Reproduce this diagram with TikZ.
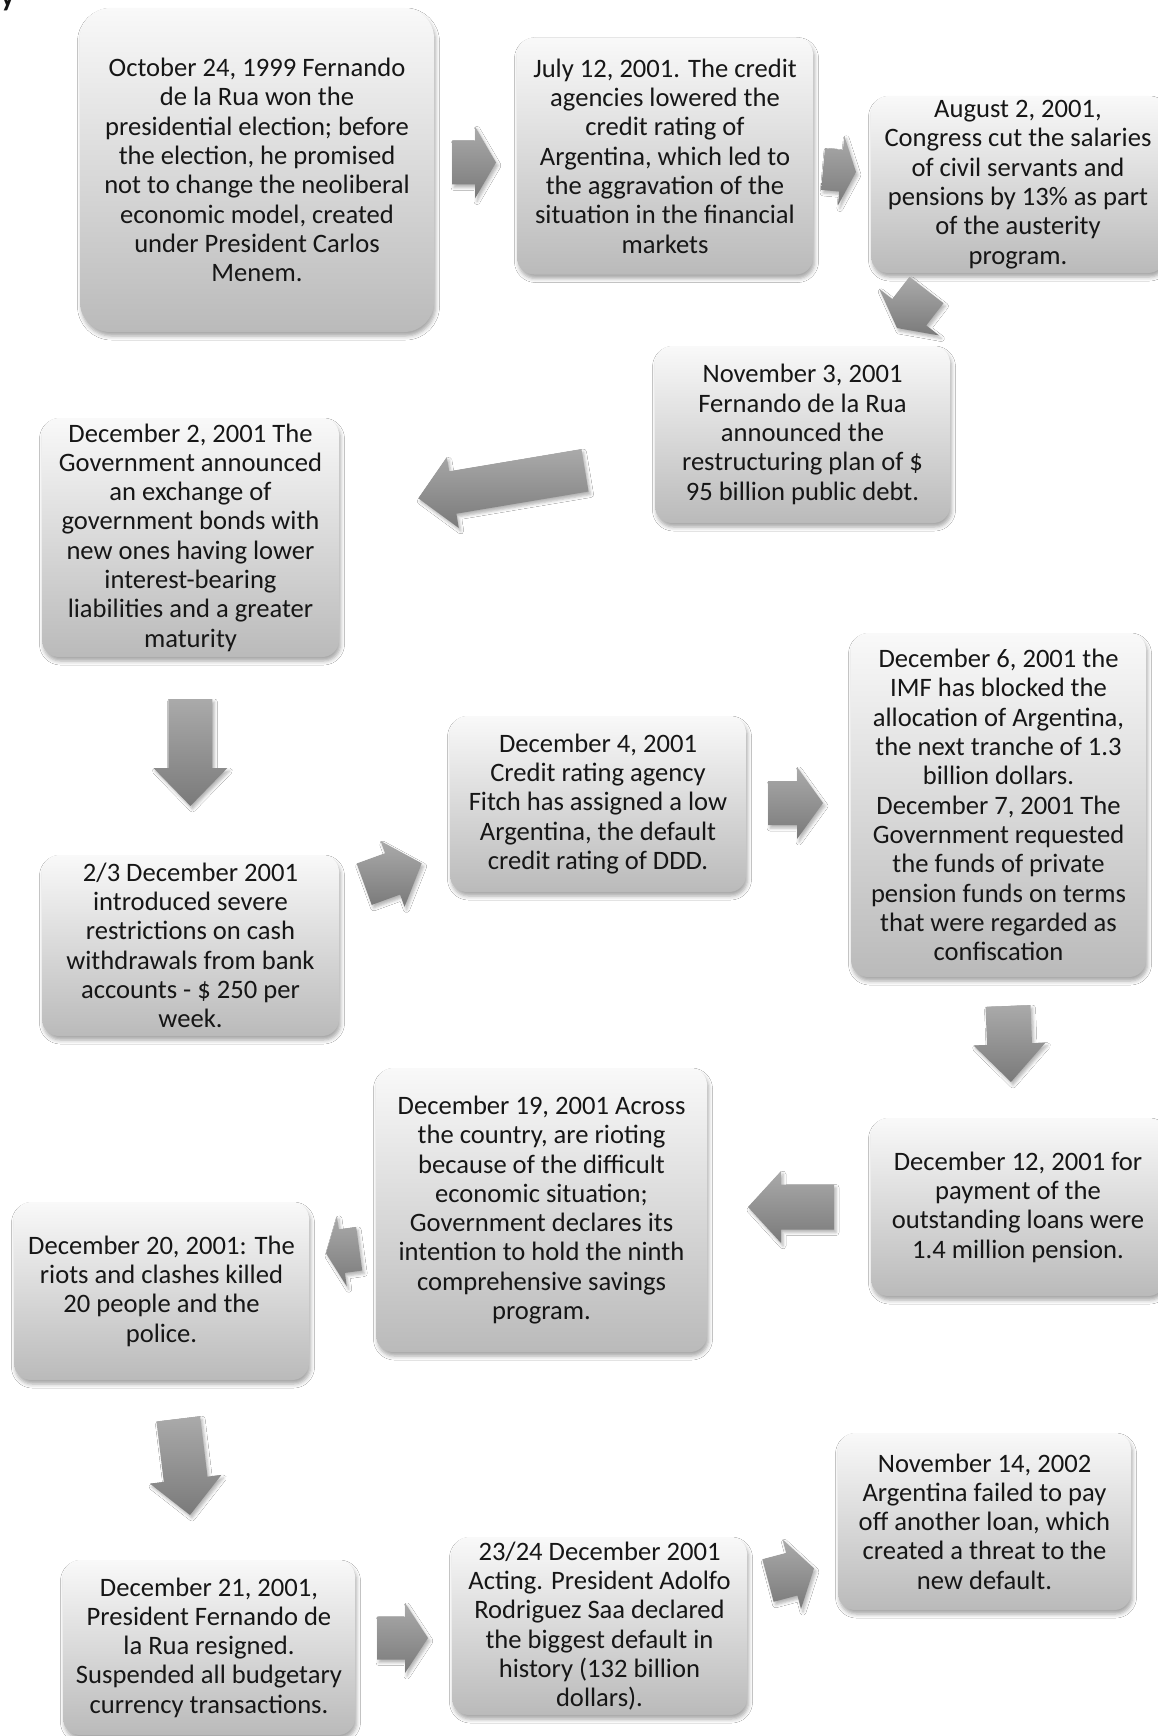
\documentclass[tikz,border=0pt]{standalone}
\usepackage{fontspec}
\setmainfont{Carlito}
\usetikzlibrary{calc,shadows,shadows.blur}
\definecolor{boxtop}{RGB}{249,249,249}
\definecolor{boxbot}{RGB}{186,186,186}
\definecolor{arrtop}{RGB}{170,170,170}
\definecolor{arrbot}{RGB}{122,122,122}
\definecolor{txt}{RGB}{22,22,22}
\tikzset{
  evbox/.style={rectangle, rounded corners=17pt, top color=boxtop, bottom color=boxbot,
    draw=none, text=txt, align=center, inner sep=0pt,
    font=\fontsize{26.6}{29.3}\selectfont,
    blur shadow={shadow xshift=1.5pt, shadow yshift=-4pt, shadow blur radius=4pt, shadow opacity=35}},
  arrowshade/.style={top color=arrtop, bottom color=arrbot,
    blur shadow={shadow xshift=2pt, shadow yshift=-3pt, shadow blur radius=3pt, shadow opacity=30}},
}
% #1 tail, #2 tip, #3 shaft half width, #4 head half width, #5 head length
\newcommand{\blockarrow}[5]{%
  \coordinate (bah) at ($(#2)!#5!(#1)$);
  \shade[arrowshade] ($(#1)!#3!90:(#2)$) -- ($(bah)!#3!-90:(#1)$) -- ($(bah)!#4!-90:(#1)$)
    -- (#2) -- ($(bah)!#4!90:(#1)$) -- ($(bah)!#3!90:(#1)$) -- ($(#1)!#3!-90:(#2)$) -- cycle;
}
\begin{document}
\begin{tikzpicture}[x=1pt,y=-1pt]
\useasboundingbox (0,0) rectangle (1158,1736);
\fill[white] (0,0) rectangle (1158,1736);

\node[anchor=base west, inner sep=0pt, text=txt, font=\bfseries\fontsize{28}{32}\selectfont] (frag) at (1,7) {y};

\node[evbox, rounded corners=30pt, minimum width=354pt, minimum height=324pt] (b1) at (257,170)
 {October 24, 1999 Fernando\\de la Rua won the\\presidential election; before\\the election, he promised\\not to change the neoliberal\\economic model, created\\under President Carlos\\Menem.};
\node[evbox, minimum width=296pt, minimum height=237pt] (b2) at (665,156)
 {July 12, 2001. The credit\\agencies lowered the\\credit rating of\\Argentina, which led to\\the aggravation of the\\situation in the financial\\markets};
\node[evbox, minimum width=294pt, minimum height=177pt] (b3) at (1018,184.5)
 {August 2, 2001,\\Congress cut the salaries\\of civil servants and\\pensions by 13\% as part\\of the austerity\\program.};
\node[evbox, minimum width=295pt, minimum height=177pt] (b4) at (802.5,434.5)
 {November 3, 2001\\Fernando de la Rua\\announced the\\restructuring plan of \$\\95 billion public debt.};
\node[evbox, minimum width=297pt, minimum height=239pt] (b5) at (190.5,537.5)
 {December 2, 2001 The\\Government announced\\an exchange of\\government bonds with\\new ones having lower\\interest-bearing\\liabilities and a greater\\maturity};
\node[evbox, minimum width=297pt, minimum height=181pt] (b6) at (190.5,945.5)
 {2/3 December 2001\\introduced severe\\restrictions on cash\\withdrawals from bank\\accounts - \$ 250 per\\week.};
\node[evbox, minimum width=296pt, minimum height=176pt] (b7) at (598,804)
 {December 4, 2001\\Credit rating agency\\Fitch has assigned a low\\Argentina, the default\\credit rating of DDD.};
\node[evbox, minimum width=295pt, minimum height=344pt] (b8) at (998.5,805)
 {December 6, 2001 the\\IMF has blocked the\\allocation of Argentina,\\the next tranche of 1.3\\billion dollars.\\December 7, 2001 The\\Government requested\\the funds of private\\pension funds on terms\\that were regarded as\\confiscation};
\node[evbox, minimum width=294pt, minimum height=178pt] (b9) at (1018,1207)
 {December 12, 2001 for\\payment of the\\outstanding loans were\\1.4 million pension.};
\node[evbox, minimum width=331pt, minimum height=284pt] (b10) at (541.5,1210)
 {December 19, 2001 Across\\the country, are rioting\\because of the difficult\\economic situation;\\Government declares its\\intention to hold the ninth\\comprehensive savings\\program.};
\node[evbox, minimum width=295pt, minimum height=178pt] (b11) at (161.5,1291)
 {December 20, 2001: The\\riots and clashes killed\\20 people and the\\police.};
\node[evbox, minimum width=292pt, minimum height=175pt] (b12) at (209,1647.5)
 {December 21, 2001,\\President Fernando de\\la Rua resigned.\\Suspended all budgetary\\currency transactions.};
\node[evbox, minimum width=295pt, minimum height=178pt] (b13) at (599.5,1626)
 {23/24 December 2001\\Acting. President Adolfo\\Rodriguez Saa declared\\the biggest default in\\history (132 billion\\dollars).};
\node[evbox, minimum width=293pt, minimum height=177pt] (b14) at (984.5,1521.5)
 {November 14, 2002\\Argentina failed to pay\\off another loan, which\\created a threat to the\\new default.};

% arrow end points
\coordinate (a1s) at (452,162.5);   \coordinate (a1e) at (496,162.5);
\coordinate (a2s) at (823,169);     \coordinate (a2e) at (856,172);
\coordinate (a3s) at (926.5,290);   \coordinate (a3e) at (897,328);
\coordinate (a4s) at (585,470.3);   \coordinate (a4e) at (418.3,498.3);
\coordinate (a5s) at (190.4,699);   \coordinate (a5e) at (190.4,806);
\coordinate (a6s) at (364.2,884.2); \coordinate (a6e) at (421.7,863.3);
\coordinate (a7s) at (768,803);     \coordinate (a7e) at (823,803);
\coordinate (a8s) at (1008,1006);   \coordinate (a8e) at (1011,1082);
\coordinate (a9s) at (834,1207);    \coordinate (a9e) at (748,1207);
\coordinate (a10s) at (359.2,1248.7); \coordinate (a10e) at (326,1253.3);
\coordinate (a11s) at (178.3,1418.8); \coordinate (a11e) at (190,1515);
\coordinate (a12s) at (377,1638);   \coordinate (a12e) at (428,1638);
\coordinate (a13s) at (768,1580.5); \coordinate (a13e) at (814,1568.3);

\blockarrow{a1s}{a1e}{22pt}{36pt}{21pt}
\blockarrow{a2s}{a2e}{21pt}{35pt}{15pt}
\blockarrow{a3s}{a3e}{21.5pt}{38pt}{20pt}
\blockarrow{a4s}{a4e}{21.5pt}{36pt}{35pt}
\blockarrow{a5s}{a5e}{22pt}{37pt}{38pt}
\blockarrow{a6s}{a6e}{22pt}{35pt}{31pt}
\blockarrow{a7s}{a7e}{22pt}{36pt}{26pt}
\blockarrow{a8s}{a8e}{22.5pt}{36pt}{38pt}
\blockarrow{a9s}{a9e}{22.5pt}{36pt}{33pt}
\blockarrow{a10s}{a10e}{22pt}{35.5pt}{16pt}
\blockarrow{a11s}{a11e}{22pt}{36pt}{36pt}
\blockarrow{a12s}{a12e}{21.5pt}{35pt}{23pt}
\blockarrow{a13s}{a13e}{22pt}{36pt}{23pt}
\end{tikzpicture}
\end{document}
